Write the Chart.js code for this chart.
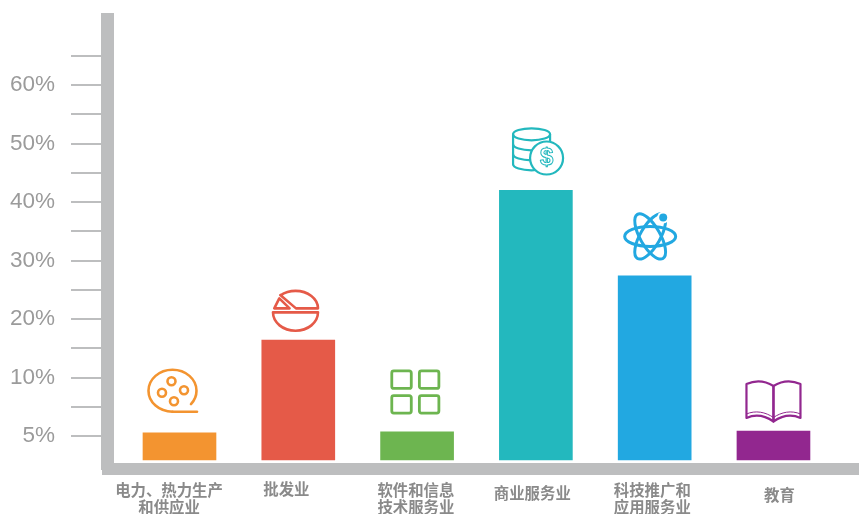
<!DOCTYPE html>
<html>
<head>
<meta charset="utf-8">
<style>
  html, body { margin: 0; padding: 0; background: #fff; }
  #wrap { width: 859px; height: 514px; }
</style>
<script src="https://cdn.jsdelivr.net/npm/chart.js@4/dist/chart.umd.min.js"></script>
</head>
<body>
<div id="wrap"><canvas id="chart" width="859" height="514"></canvas></div>
<script>
const categories = [
  ['电力、热力生产', '和供应业'],
  ['批发业'],
  ['软件和信息', '技术服务业'],
  ['商业服务业'],
  ['科技推广和', '应用服务业'],
  ['教育']
];
const values = [5.28, 16.4, 5.35, 42, 27.4, 5.43];
const barColors = ['#f39430', '#e55a48', '#6db550', '#23b8be', '#22a8e1', '#92278f'];
const yTickValues = [5, 7.5, 10, 15, 20, 25, 30, 35, 40, 45, 50, 55, 60, 65];
const yTickLabels = ['5%', '', '10%', '', '20%', '', '30%', '', '40%', '', '50%', '', '60%', ''];
// the labels do not sit exactly under their bars in the original
const labelOffsets = [-0.088, -0.1, -0.01, -0.03, -0.02, 0.05];
const labelLineHeights = ['17px', '15px', '17px', '23px', '17px', '27px'];

const AXIS_GRAY = '#bdbebf';
const Y_MIN = 2.18, Y_MAX = 71.2, BAR_BASE = 2.95;

// the original axis gives the 5%-10% step twice the room of the others
function stretch(v) { return v < 10 ? (v - 5) * 2 : v; }
function unstretch(m) { return m < 10 ? m / 2 + 5 : m; }

class SteppedPercentScale extends Chart.LinearScale {
  static id = 'steppedPercent';
  static defaults = Chart.LinearScale.defaults;
  getPixelForValue(value) {
    if (value === null) return NaN;
    const lo = stretch(this.min), hi = stretch(this.max);
    return this.getPixelForDecimal((stretch(value) - lo) / (hi - lo));
  }
  getValueForPixel(pixel) {
    const lo = stretch(this.min), hi = stretch(this.max);
    return unstretch(lo + this.getDecimalForPixel(pixel) * (hi - lo));
  }
}
Chart.register(SteppedPercentScale);

function ring(ctx, x, y, r) {
  ctx.beginPath();
  ctx.arc(x, y, r, 0, Math.PI * 2);
  ctx.stroke();
}

function reelIcon(ctx) {
  ctx.beginPath();
  ctx.ellipse(-7, -42, 24, 21, 0, Math.PI * 0.5, Math.PI * 0.22);
  ctx.stroke();
  ctx.beginPath();
  ctx.moveTo(-7, -21);
  ctx.lineTo(17.5, -21);
  ctx.stroke();
  ring(ctx, -8, -51.5, 4);
  ring(ctx, 4.5, -42.5, 4);
  ring(ctx, -17.5, -40, 4);
  ring(ctx, -5.5, -31.5, 4);
}

function pieIcon(ctx) {
  // lower half
  ctx.beginPath();
  ctx.moveTo(-25.3, -27.7);
  ctx.lineTo(19.7, -27.7);
  ctx.ellipse(-2.8, -27.7, 22.5, 18.4, 0, 0, Math.PI);
  ctx.closePath();
  ctx.stroke();
  // upper slice
  ctx.beginPath();
  ctx.moveTo(-18, -45);
  ctx.lineTo(-2.3, -31.7);
  ctx.lineTo(19.7, -31.7);
  ctx.ellipse(-2.8, -31.7, 22.5, 17.5, 0, 0, -2.3, true);
  ctx.stroke();
  // small wedge
  ctx.beginPath();
  ctx.moveTo(-24, -31.7);
  ctx.lineTo(-8.7, -31.7);
  ctx.lineTo(-19, -41.7);
  ctx.closePath();
  ctx.stroke();
}

function gridIcon(ctx) {
  [-25.3, 2.3].forEach(x => {
    [-61, -36.3].forEach(y => {
      ctx.beginPath();
      ctx.roundRect(x, y, 19.5, 17.5, 2);
      ctx.stroke();
    });
  });
}

function coinsIcon(ctx) {
  const cx = -4.3;
  ctx.beginPath();
  ctx.ellipse(cx, -56, 18.5, 6, 0, 0, Math.PI * 2);
  ctx.stroke();
  ctx.beginPath();
  ctx.moveTo(cx - 18.5, -56);
  ctx.lineTo(cx - 18.5, -26);
  ctx.moveTo(cx + 18.5, -56);
  ctx.lineTo(cx + 18.5, -40);
  ctx.stroke();
  [-46, -36, -26].forEach(y => {
    ctx.beginPath();
    ctx.ellipse(cx, y, 18.5, 6, 0, 0, Math.PI);
    ctx.stroke();
  });
  ctx.beginPath();
  ctx.arc(10.7, -32.3, 16.5, 0, Math.PI * 2);
  ctx.fillStyle = '#fff';
  ctx.fill();
  ctx.stroke();
  ctx.lineWidth = 1;
  ctx.font = 'bold 24px "Liberation Sans"';
  ctx.textAlign = 'center';
  ctx.textBaseline = 'middle';
  ctx.strokeText('$', 10.7, -31.5);
}

function atomIcon(ctx) {
  [0, Math.PI / 3, -Math.PI / 3].forEach(rot => {
    ctx.beginPath();
    ctx.ellipse(-4.5, -39.3, 25.5, 10, rot, 0, Math.PI * 2);
    ctx.stroke();
  });
  ctx.beginPath();
  ctx.arc(8.5, -58.3, 6, 0, Math.PI * 2);
  ctx.fillStyle = '#fff';
  ctx.fill();
  ctx.beginPath();
  ctx.arc(8.5, -58.3, 4, 0, Math.PI * 2);
  ctx.fillStyle = ctx.strokeStyle;
  ctx.fill();
}

function bookIcon(ctx) {
  [-1, 1].forEach(s => {
    ctx.beginPath();
    ctx.moveTo(0, -9.5);
    ctx.lineTo(0, -45);
    ctx.bezierCurveTo(s * 8, -50, s * 18, -51, s * 27, -47);
    ctx.lineTo(s * 27, -13);
    ctx.bezierCurveTo(s * 18, -17, s * 8, -15, 0, -9.5);
    ctx.stroke();
    ctx.save();
    ctx.lineWidth = 1;
    ctx.beginPath();
    ctx.moveTo(0, -13.5);
    ctx.bezierCurveTo(s * 8, -19, s * 18, -21, s * 27, -17);
    ctx.stroke();
    ctx.restore();
  });
}

const icons = [reelIcon, pieIcon, gridIcon, coinsIcon, atomIcon, bookIcon];
const iconWidths = [2.6, 2.6, 2.8, 2.2, 3, 2.2];

// line icons sit on top of each bar, so they follow the bar elements
const barIcons = {
  id: 'barIcons',
  afterDatasetsDraw(chart) {
    const { ctx } = chart;
    chart.getDatasetMeta(0).data.forEach((bar, i) => {
      ctx.save();
      ctx.translate(bar.x, bar.y);
      ctx.strokeStyle = barColors[i];
      ctx.lineWidth = iconWidths[i];
      ctx.lineCap = 'round';
      ctx.lineJoin = 'round';
      icons[i](ctx);
      ctx.restore();
    });
  }
};

new Chart(document.getElementById('chart').getContext('2d'), {
  type: 'bar',
  data: {
    datasets: [{
      data: values.map((v, i) => ({ x: i, y: v })),
      backgroundColor: barColors,
      base: BAR_BASE,
      barThickness: 73,
      borderWidth: 0
    }]
  },
  plugins: [barIcons],
  options: {
    responsive: false,
    animation: false,
    layout: { padding: { top: 19.5 } },
    plugins: { legend: { display: false }, tooltip: { enabled: false } },
    scales: {
      x: {
        type: 'linear',
        offset: false,
        min: -0.606,
        max: 5.72,
        border: { color: AXIS_GRAY, width: 12 },
        grid: { drawOnChartArea: false, drawTicks: false, offset: false },
        afterBuildTicks: axis => { axis.ticks = labelOffsets.map((d, i) => ({ value: i + d })); },
        afterFit: axis => {
          axis.height = 45;
          axis.paddingLeft = 0;
          axis.paddingRight = 0;
        },
        ticks: {
          autoSkip: false,
          maxRotation: 0,
          padding: 13,
          color: '#8a8a8a',
          font: ctx => ({
            family: '"Noto Sans CJK SC"',
            size: 15.4,
            weight: 'bold',
            lineHeight: labelLineHeights[ctx.index]
          }),
          callback: (value, i) => categories[i]
        }
      },
      y: {
        type: 'steppedPercent',
        min: Y_MIN,
        max: Y_MAX,
        border: { color: AXIS_GRAY, width: 13 },
        grid: { drawOnChartArea: false, color: AXIS_GRAY, lineWidth: 2, tickLength: 36.5 },
        afterBuildTicks: axis => { axis.ticks = yTickValues.map(value => ({ value })); },
        afterFit: axis => {
          axis.width = 107.5;
          axis.paddingTop = 0;
          axis.paddingBottom = 0;
        },
        ticks: {
          autoSkip: false,
          padding: 16,
          color: '#9b9b9b',
          font: { family: '"Liberation Sans"', size: 22.5 },
          callback: (value, i) => yTickLabels[i]
        }
      }
    }
  }
});
</script>
</body>
</html>
